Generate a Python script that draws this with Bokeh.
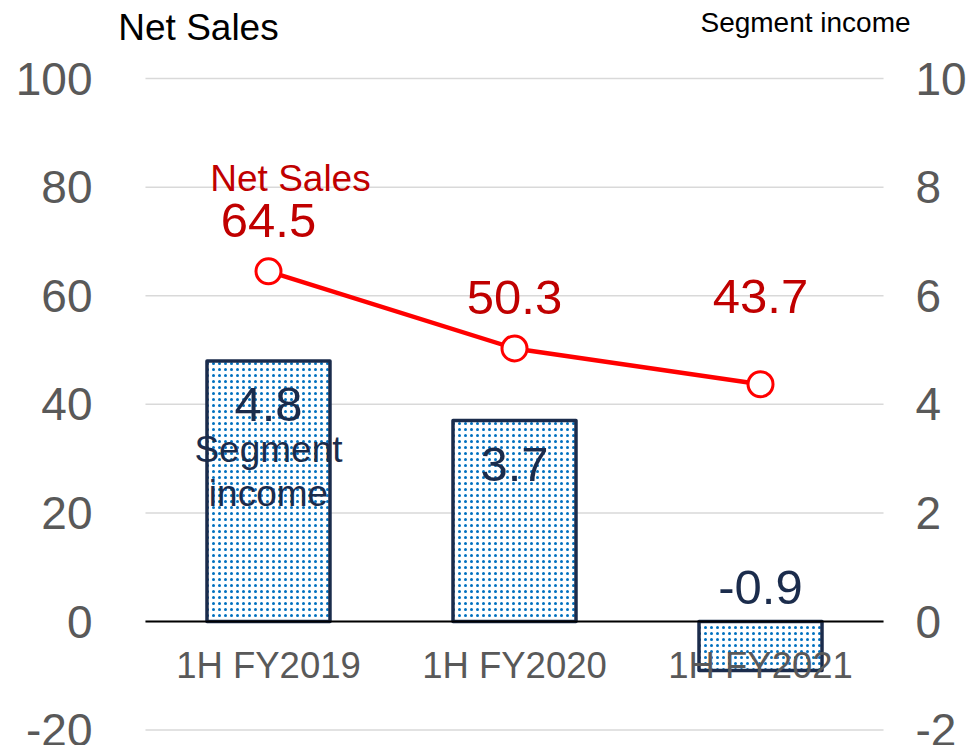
from bokeh.plotting import figure
from bokeh.models import (Range1d, FactorRange, LinearAxis, FixedTicker, ColumnDataSource,
                          PrintfTickFormatter)
from bokeh.core.properties import value
from bokeh.embed import file_html
from bokeh.resources import INLINE

# ---- data ----
periods = ["1H FY2019", "1H FY2020", "1H FY2021"]
net_sales = [64.5, 50.3, 43.7]
segment_income = [4.8, 3.7, -0.9]
sales_ticks = [-20, 0, 20, 40, 60, 80, 100]
income_ticks = [-2, 0, 2, 4, 6, 8, 10]

FONT = "Liberation Sans"
RED_TXT = "#c00000"
NAVY = "#1b2c4c"
GREY = "#595959"
# The frame is a little larger than the visible chart area so that the axis
# titles (text glyphs) are not clipped; gridlines are drawn only over the chart.
Y_LO, Y_HI = -21.36, 112.9
X_PAD = 0.13  # extra factor-range padding on each side
RATIO = 10    # sales axis / segment income axis

p = figure(x_range=FactorRange(factors=periods, range_padding=X_PAD,
                               range_padding_units="absolute"),
           y_range=Range1d(Y_LO, Y_HI), width=971, height=745,
           output_backend="svg", toolbar_location=None, x_axis_location=None,
           min_border_left=113, min_border_right=56, min_border_top=8, min_border_bottom=8)
p.extra_y_ranges = {"seg": Range1d(Y_LO / RATIO, Y_HI / RATIO)}
p.outline_line_color = None
p.background_fill_color = "white"
p.border_fill_color = "white"
p.xgrid.visible = False
p.ygrid.visible = False

def style_axis(ax, standoff):
    ax.axis_line_color = None
    ax.major_tick_line_color = None
    ax.minor_tick_line_color = None
    ax.major_tick_in = 0
    ax.major_tick_out = 0
    ax.minor_tick_out = 0
    ax.major_label_text_font = FONT
    ax.major_label_text_font_size = "46px"
    ax.major_label_text_color = GREY
    ax.major_label_standoff = standoff
    ax.formatter = PrintfTickFormatter(format="%d")

left = p.yaxis[0]
left.ticker = FixedTicker(ticks=sales_ticks)
style_axis(left, 21)

right = LinearAxis(y_range_name="seg", ticker=FixedTicker(ticks=income_ticks))
style_axis(right, 0)
p.add_layout(right, "right")

# gridlines over the category span only
n = len(periods)
grid_src = ColumnDataSource(dict(y=sales_ticks, x0=[0] * len(sales_ticks),
                                 x1=[n] * len(sales_ticks)))
p.segment(x0="x0", x1="x1", y0="y", y1="y", source=grid_src,
          line_color="#d9d9d9", line_width=1.5)

# bars (segment income, right axis)
src = ColumnDataSource(dict(period=periods, income=segment_income, sales=net_sales,
                            base=[0 for _ in periods]))
p.vbar(x="period", top="income", bottom="base", width=0.5, source=src, y_range_name="seg",
       fill_color="white", line_color=NAVY, line_width=3.5, line_join="round",
       hatch_pattern=".", hatch_color="#0070c0", hatch_scale=6, hatch_weight=1)

# zero line
p.segment(x0=[0], x1=[n], y0=[0], y1=[0], line_color="black", line_width=2)

# line (net sales, left axis)
p.line(x="period", y="sales", source=src, line_color="#ff0000", line_width=4.5)
p.scatter(x="period", y="sales", source=src, marker="circle", size=25,
          fill_color="white", line_color="#ff0000", line_width=3)

# category labels inside plot
p.text(x="period", y="base", text="period", source=src, y_offset=44,
       text_font=value(FONT), text_font_size="36.5px", text_color=GREY,
       text_align="center", text_baseline="middle")

# net sales value labels
sales_dy = [-51, -51, -88]
for i in range(n):
    p.text(x=[periods[i]], y=[net_sales[i]], text=[f"{net_sales[i]:.1f}"], y_offset=sales_dy[i],
           text_font=value(FONT), text_font_size="49px", text_color=RED_TXT,
           text_align="center", text_baseline="middle")
p.text(x=[periods[0]], y=[net_sales[0]], text=["Net Sales"], x_offset=22, y_offset=-93,
       text_font=value(FONT), text_font_size="37px", text_color=RED_TXT,
       text_align="center", text_baseline="middle")

# segment income value labels
for i in range(n):
    v = segment_income[i]
    dy = 44 if v > 0 else -34
    p.text(x=[periods[i]], y=[v if v > 0 else 0], text=[f"{v:.1f}"], y_offset=dy,
           y_range_name="seg",
           text_font=value(FONT), text_font_size="49px", text_color=NAVY,
           text_align="center", text_baseline="middle")
for txt, dy in (("Segment", 89), ("income", 133)):
    p.text(x=[periods[0]], y=[segment_income[0]], text=[txt], y_offset=dy, y_range_name="seg",
           text_font=value(FONT), text_font_size="37px", text_color=NAVY,
           text_align="center", text_baseline="middle")

# axis titles above the top gridline
top_tick = sales_ticks[-1]
p.text(x=[periods[0]], y=[top_tick], text=["Net Sales"], x_offset=-70, y_offset=-51,
       text_font=value(FONT), text_font_size="37px", text_color="black",
       text_align="center", text_baseline="middle")
p.text(x=[periods[-1]], y=[top_tick], text=["Segment income"], x_offset=45, y_offset=-56,
       text_font=value(FONT), text_font_size="28px", text_color="black",
       text_align="center", text_baseline="middle")

open("out.html", "w").write(file_html(p, INLINE))
